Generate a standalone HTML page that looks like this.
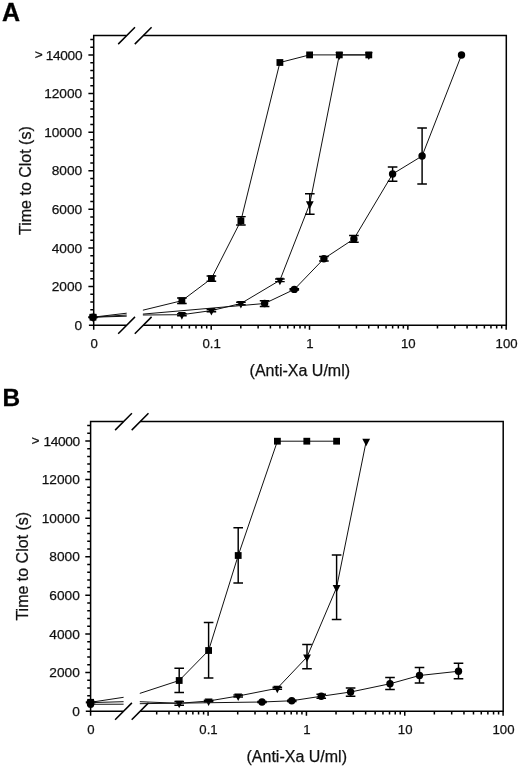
<!DOCTYPE html>
<html><head><meta charset="utf-8"><title>Figure</title>
<style>
html,body{margin:0;padding:0;background:#fff;}
svg{display:block;}
text{font-family:"Liberation Sans",sans-serif;fill:#111;}
.tk{font-size:13.2px;stroke:#111;stroke-width:0.25px;}
.ty{font-size:13.7px;}
.tt{font-size:16px;stroke:#111;stroke-width:0.25px;}
.pl{font-weight:bold;fill:#000;stroke:#000;stroke-width:0.3px;}
</style></head><body>
<svg width="520" height="767" viewBox="0 0 520 767">
<rect width="520" height="767" fill="#fff"/>
<path d="M93.70,329.70 V35.60 H126.40 M143.20,35.60 H506.30 V325.20 H143.20 M126.40,325.20 H88.90" fill="none" stroke="#000" stroke-width="1.5" stroke-linecap="butt" stroke-linejoin="miter"/>
<line x1="118.20" y1="44.10" x2="135.00" y2="27.30" stroke="#000" stroke-width="1.5"/>
<line x1="134.80" y1="44.10" x2="151.60" y2="27.30" stroke="#000" stroke-width="1.5"/>
<line x1="118.20" y1="333.70" x2="135.00" y2="316.90" stroke="#000" stroke-width="1.5"/>
<line x1="134.80" y1="333.70" x2="151.60" y2="316.90" stroke="#000" stroke-width="1.5"/>
<path d="M93.70,317.38 h-3.4 M93.70,309.66 h-3.4 M93.70,301.94 h-3.4 M93.70,294.23 h-3.4 M93.70,286.51 h-5.3 M93.70,278.79 h-3.4 M93.70,271.07 h-3.4 M93.70,263.35 h-3.4 M93.70,255.63 h-3.4 M93.70,247.92 h-5.3 M93.70,240.20 h-3.4 M93.70,232.48 h-3.4 M93.70,224.76 h-3.4 M93.70,217.04 h-3.4 M93.70,209.32 h-5.3 M93.70,201.61 h-3.4 M93.70,193.89 h-3.4 M93.70,186.17 h-3.4 M93.70,178.45 h-3.4 M93.70,170.73 h-5.3 M93.70,163.01 h-3.4 M93.70,155.30 h-3.4 M93.70,147.58 h-3.4 M93.70,139.86 h-3.4 M93.70,132.14 h-5.3 M93.70,124.42 h-3.4 M93.70,116.70 h-3.4 M93.70,108.98 h-3.4 M93.70,101.27 h-3.4 M93.70,93.55 h-5.3 M93.70,85.83 h-3.4 M93.70,78.11 h-3.4 M93.70,70.39 h-3.4 M93.70,62.67 h-3.4 M93.70,54.96 h-5.3 M93.70,47.24 h-3.4 M93.70,39.52 h-3.4 M159.79,325.20 v3.2 M172.07,325.20 v3.2 M181.60,325.20 v3.2 M189.39,325.20 v3.2 M195.97,325.20 v3.2 M201.67,325.20 v3.2 M206.70,325.20 v3.2 M211.20,325.20 v4.5 M240.80,325.20 v3.2 M258.12,325.20 v3.2 M270.40,325.20 v3.2 M279.93,325.20 v3.2 M287.72,325.20 v3.2 M294.30,325.20 v3.2 M300.00,325.20 v3.2 M305.03,325.20 v3.2 M309.53,325.20 v4.5 M339.13,325.20 v3.2 M356.45,325.20 v3.2 M368.73,325.20 v3.2 M378.26,325.20 v3.2 M386.05,325.20 v3.2 M392.63,325.20 v3.2 M398.33,325.20 v3.2 M403.36,325.20 v3.2 M407.86,325.20 v4.5 M437.46,325.20 v3.2 M454.78,325.20 v3.2 M467.06,325.20 v3.2 M476.59,325.20 v3.2 M484.38,325.20 v3.2 M490.96,325.20 v3.2 M496.66,325.20 v3.2 M501.69,325.20 v3.2 M506.19,325.20 v4.5 " fill="none" stroke="#000" stroke-width="1.5"/>
<text x="82.20" y="329.75" text-anchor="end" class="tk ty">0</text>
<text x="82.20" y="291.16" text-anchor="end" class="tk ty">2000</text>
<text x="82.20" y="252.57" text-anchor="end" class="tk ty">4000</text>
<text x="82.20" y="213.97" text-anchor="end" class="tk ty">6000</text>
<text x="82.20" y="175.38" text-anchor="end" class="tk ty">8000</text>
<text x="82.20" y="136.79" text-anchor="end" class="tk ty">10000</text>
<text x="82.20" y="98.20" text-anchor="end" class="tk ty">12000</text>
<text x="82.20" y="59.61" text-anchor="end" class="tk ty" letter-spacing="-0.33">14000</text>
<text x="42.70" y="59.46" text-anchor="end" class="tk ty">&gt;</text>
<text x="94.10" y="347.80" text-anchor="middle" class="tk">0</text>
<text x="211.60" y="347.80" text-anchor="middle" class="tk">0.1</text>
<text x="309.93" y="347.80" text-anchor="middle" class="tk">1</text>
<text x="408.26" y="347.80" text-anchor="middle" class="tk">10</text>
<text x="506.59" y="347.80" text-anchor="middle" class="tk">100</text>
<text x="299.83" y="375.70" text-anchor="middle" class="tt">(Anti-Xa U/ml)</text>
<text transform="translate(31.10,180.60) rotate(-90)" text-anchor="middle" class="tt">Time to Clot (s)</text>
<text x="2.0" y="20.7" class="pl" font-size="25">A</text>
<path d="M93.00,317.20 L126.70,313.20 M142.90,310.20 L181.90,300.70 M181.90,300.70 L211.40,278.60 M211.40,278.60 L240.90,220.75 M240.90,220.75 L279.90,62.50 M279.90,62.50 L309.60,54.90 M309.60,54.90 L339.30,54.90 M339.30,54.90 L368.80,54.90 " fill="none" stroke="#111" stroke-width="1"/>
<path d="M93.00,316.90 V317.50 M88.20,316.90 h9.6 M88.20,317.50 h9.6 M181.90,298.00 V303.50 M177.10,298.00 h9.6 M177.10,303.50 h9.6 M211.40,276.00 V281.20 M206.60,276.00 h9.6 M206.60,281.20 h9.6 M240.90,216.60 V224.90 M236.10,216.60 h9.6 M236.10,224.90 h9.6 " fill="none" stroke="#000" stroke-width="1.45"/>
<rect x="89.60" y="313.80" width="6.8" height="6.8" fill="#000"/>
<rect x="178.50" y="297.30" width="6.8" height="6.8" fill="#000"/>
<rect x="208.00" y="275.20" width="6.8" height="6.8" fill="#000"/>
<rect x="237.50" y="217.35" width="6.8" height="6.8" fill="#000"/>
<rect x="276.50" y="59.10" width="6.8" height="6.8" fill="#000"/>
<rect x="306.20" y="51.50" width="6.8" height="6.8" fill="#000"/>
<rect x="335.90" y="51.50" width="6.8" height="6.8" fill="#000"/>
<rect x="365.40" y="51.50" width="6.8" height="6.8" fill="#000"/>
<path d="M93.00,317.20 L126.70,316.20 M142.90,315.00 L181.90,314.70 M181.90,314.70 L211.40,310.60 M211.40,310.60 L240.90,303.50 M240.90,303.50 L279.90,280.30 M279.90,280.30 L309.80,203.80 M309.80,203.80 L339.30,54.90 M339.30,54.90 L368.80,54.90 " fill="none" stroke="#111" stroke-width="1"/>
<path d="M181.90,313.60 V315.80 M177.10,313.60 h9.6 M177.10,315.80 h9.6 M211.40,309.50 V311.70 M206.60,309.50 h9.6 M206.60,311.70 h9.6 M240.90,302.20 V304.80 M236.10,302.20 h9.6 M236.10,304.80 h9.6 M279.90,279.00 V281.60 M275.10,279.00 h9.6 M275.10,281.60 h9.6 M309.80,193.75 V214.25 M305.00,193.75 h9.6 M305.00,214.25 h9.6 " fill="none" stroke="#000" stroke-width="1.45"/>
<path d="M89.10,314.60 h7.8 L93.00,322.20 Z" fill="#000"/>
<path d="M178.00,312.10 h7.8 L181.90,319.70 Z" fill="#000"/>
<path d="M207.50,308.00 h7.8 L211.40,315.60 Z" fill="#000"/>
<path d="M237.00,300.90 h7.8 L240.90,308.50 Z" fill="#000"/>
<path d="M276.00,277.70 h7.8 L279.90,285.30 Z" fill="#000"/>
<path d="M305.90,201.20 h7.8 L309.80,208.80 Z" fill="#000"/>
<path d="M335.40,52.30 h7.8 L339.30,59.90 Z" fill="#000"/>
<path d="M364.90,52.30 h7.8 L368.80,59.90 Z" fill="#000"/>
<path d="M93.00,317.20 L126.70,315.00 M142.90,314.10 L264.60,303.50 M264.60,303.50 L294.30,289.40 M294.30,289.40 L323.90,258.70 M323.90,258.70 L353.90,238.90 M353.90,238.90 L392.60,174.00 M392.60,174.00 L422.10,156.00 M422.10,156.00 L461.50,55.00 " fill="none" stroke="#111" stroke-width="1"/>
<path d="M264.60,300.75 V306.40 M259.80,300.75 h9.6 M259.80,306.40 h9.6 M294.30,288.70 V290.10 M289.50,288.70 h9.6 M289.50,290.10 h9.6 M323.90,256.50 V260.90 M319.10,256.50 h9.6 M319.10,260.90 h9.6 M353.90,235.40 V242.30 M349.10,235.40 h9.6 M349.10,242.30 h9.6 M392.60,167.00 V181.25 M387.80,167.00 h9.6 M387.80,181.25 h9.6 M422.10,128.00 V184.00 M417.30,128.00 h9.6 M417.30,184.00 h9.6 " fill="none" stroke="#000" stroke-width="1.45"/>
<circle cx="93.00" cy="317.20" r="3.7" fill="#000"/>
<circle cx="264.60" cy="303.50" r="3.7" fill="#000"/>
<circle cx="294.30" cy="289.40" r="3.7" fill="#000"/>
<circle cx="323.90" cy="258.70" r="3.7" fill="#000"/>
<circle cx="353.90" cy="238.90" r="3.7" fill="#000"/>
<circle cx="392.60" cy="174.00" r="3.7" fill="#000"/>
<circle cx="422.10" cy="156.00" r="3.7" fill="#000"/>
<circle cx="461.50" cy="55.00" r="3.7" fill="#000"/>
<path d="M90.60,715.70 V421.60 H123.30 M140.10,421.60 H503.20 V711.20 H140.10 M123.30,711.20 H85.80" fill="none" stroke="#000" stroke-width="1.5" stroke-linecap="butt" stroke-linejoin="miter"/>
<line x1="115.10" y1="430.10" x2="131.90" y2="413.30" stroke="#000" stroke-width="1.5"/>
<line x1="131.70" y1="430.10" x2="148.50" y2="413.30" stroke="#000" stroke-width="1.5"/>
<line x1="115.10" y1="719.70" x2="131.90" y2="702.90" stroke="#000" stroke-width="1.5"/>
<line x1="131.70" y1="719.70" x2="148.50" y2="702.90" stroke="#000" stroke-width="1.5"/>
<path d="M90.60,703.38 h-3.4 M90.60,695.66 h-3.4 M90.60,687.94 h-3.4 M90.60,680.23 h-3.4 M90.60,672.51 h-5.3 M90.60,664.79 h-3.4 M90.60,657.07 h-3.4 M90.60,649.35 h-3.4 M90.60,641.63 h-3.4 M90.60,633.92 h-5.3 M90.60,626.20 h-3.4 M90.60,618.48 h-3.4 M90.60,610.76 h-3.4 M90.60,603.04 h-3.4 M90.60,595.32 h-5.3 M90.60,587.61 h-3.4 M90.60,579.89 h-3.4 M90.60,572.17 h-3.4 M90.60,564.45 h-3.4 M90.60,556.73 h-5.3 M90.60,549.01 h-3.4 M90.60,541.30 h-3.4 M90.60,533.58 h-3.4 M90.60,525.86 h-3.4 M90.60,518.14 h-5.3 M90.60,510.42 h-3.4 M90.60,502.70 h-3.4 M90.60,494.98 h-3.4 M90.60,487.27 h-3.4 M90.60,479.55 h-5.3 M90.60,471.83 h-3.4 M90.60,464.11 h-3.4 M90.60,456.39 h-3.4 M90.60,448.67 h-3.4 M90.60,440.96 h-5.3 M90.60,433.24 h-3.4 M90.60,425.52 h-3.4 M156.69,711.20 v3.2 M168.97,711.20 v3.2 M178.50,711.20 v3.2 M186.29,711.20 v3.2 M192.87,711.20 v3.2 M198.57,711.20 v3.2 M203.60,711.20 v3.2 M208.10,711.20 v4.5 M237.70,711.20 v3.2 M255.02,711.20 v3.2 M267.30,711.20 v3.2 M276.83,711.20 v3.2 M284.62,711.20 v3.2 M291.20,711.20 v3.2 M296.90,711.20 v3.2 M301.93,711.20 v3.2 M306.43,711.20 v4.5 M336.03,711.20 v3.2 M353.35,711.20 v3.2 M365.63,711.20 v3.2 M375.16,711.20 v3.2 M382.95,711.20 v3.2 M389.53,711.20 v3.2 M395.23,711.20 v3.2 M400.26,711.20 v3.2 M404.76,711.20 v4.5 M434.36,711.20 v3.2 M451.68,711.20 v3.2 M463.96,711.20 v3.2 M473.49,711.20 v3.2 M481.28,711.20 v3.2 M487.86,711.20 v3.2 M493.56,711.20 v3.2 M498.59,711.20 v3.2 M503.09,711.20 v4.5 " fill="none" stroke="#000" stroke-width="1.5"/>
<text x="79.80" y="715.75" text-anchor="end" class="tk ty">0</text>
<text x="79.80" y="677.16" text-anchor="end" class="tk ty">2000</text>
<text x="79.80" y="638.57" text-anchor="end" class="tk ty">4000</text>
<text x="79.80" y="599.97" text-anchor="end" class="tk ty">6000</text>
<text x="79.80" y="561.38" text-anchor="end" class="tk ty">8000</text>
<text x="79.80" y="522.79" text-anchor="end" class="tk ty">10000</text>
<text x="79.80" y="484.20" text-anchor="end" class="tk ty">12000</text>
<text x="79.80" y="445.61" text-anchor="end" class="tk ty" letter-spacing="-0.33">14000</text>
<text x="39.60" y="445.46" text-anchor="end" class="tk ty">&gt;</text>
<text x="91.00" y="733.80" text-anchor="middle" class="tk">0</text>
<text x="208.50" y="733.80" text-anchor="middle" class="tk">0.1</text>
<text x="306.83" y="733.80" text-anchor="middle" class="tk">1</text>
<text x="405.16" y="733.80" text-anchor="middle" class="tk">10</text>
<text x="503.49" y="733.80" text-anchor="middle" class="tk">100</text>
<text x="296.73" y="761.70" text-anchor="middle" class="tt">(Anti-Xa U/ml)</text>
<text transform="translate(28.00,566.20) rotate(-90)" text-anchor="middle" class="tt">Time to Clot (s)</text>
<text x="2.5" y="406.3" class="pl" font-size="24.4">B</text>
<path d="M90.60,702.30 L123.60,697.30 M139.80,693.40 L179.20,680.50 M179.20,680.50 L208.60,650.50 M208.60,650.50 L238.20,555.50 M238.20,555.50 L277.40,441.20 M277.40,441.20 L306.80,441.20 M306.80,441.20 L336.60,441.20 " fill="none" stroke="#111" stroke-width="1"/>
<path d="M90.60,701.90 V702.70 M85.80,701.90 h9.6 M85.80,702.70 h9.6 M179.20,668.25 V692.50 M174.40,668.25 h9.6 M174.40,692.50 h9.6 M208.60,622.50 V678.00 M203.80,622.50 h9.6 M203.80,678.00 h9.6 M238.20,527.75 V583.00 M233.40,527.75 h9.6 M233.40,583.00 h9.6 " fill="none" stroke="#000" stroke-width="1.45"/>
<rect x="87.20" y="698.90" width="6.8" height="6.8" fill="#000"/>
<rect x="175.80" y="677.10" width="6.8" height="6.8" fill="#000"/>
<rect x="205.20" y="647.10" width="6.8" height="6.8" fill="#000"/>
<rect x="234.80" y="552.10" width="6.8" height="6.8" fill="#000"/>
<rect x="274.00" y="437.80" width="6.8" height="6.8" fill="#000"/>
<rect x="303.40" y="437.80" width="6.8" height="6.8" fill="#000"/>
<rect x="333.20" y="437.80" width="6.8" height="6.8" fill="#000"/>
<path d="M90.60,702.60 L123.60,701.70 M139.80,701.70 L179.20,703.30 M179.20,703.30 L208.60,701.00 M208.60,701.00 L238.20,696.00 M238.20,696.00 L277.30,688.30 M277.30,688.30 L307.00,657.00 M307.00,657.00 L336.60,587.50 M336.60,587.50 L366.20,441.30 " fill="none" stroke="#111" stroke-width="1"/>
<path d="M179.20,701.40 V705.20 M174.40,701.40 h9.6 M174.40,705.20 h9.6 M208.60,700.30 V701.70 M203.80,700.30 h9.6 M203.80,701.70 h9.6 M238.20,695.00 V697.00 M233.40,695.00 h9.6 M233.40,697.00 h9.6 M277.30,687.30 V689.30 M272.50,687.30 h9.6 M272.50,689.30 h9.6 M307.00,644.50 V668.75 M302.20,644.50 h9.6 M302.20,668.75 h9.6 M336.60,555.00 V619.50 M331.80,555.00 h9.6 M331.80,619.50 h9.6 " fill="none" stroke="#000" stroke-width="1.45"/>
<path d="M86.70,700.00 h7.8 L90.60,707.60 Z" fill="#000"/>
<path d="M175.30,700.70 h7.8 L179.20,708.30 Z" fill="#000"/>
<path d="M204.70,698.40 h7.8 L208.60,706.00 Z" fill="#000"/>
<path d="M234.30,693.40 h7.8 L238.20,701.00 Z" fill="#000"/>
<path d="M273.40,685.70 h7.8 L277.30,693.30 Z" fill="#000"/>
<path d="M303.10,654.40 h7.8 L307.00,662.00 Z" fill="#000"/>
<path d="M332.70,584.90 h7.8 L336.60,592.50 Z" fill="#000"/>
<path d="M362.30,438.70 h7.8 L366.20,446.30 Z" fill="#000"/>
<path d="M90.60,704.30 L123.60,704.20 M139.80,703.70 L262.00,702.00 M262.00,702.00 L291.75,700.75 M291.75,700.75 L321.25,696.25 M321.25,696.25 L350.60,692.00 M350.60,692.00 L390.00,683.75 M390.00,683.75 L419.50,675.50 M419.50,675.50 L458.50,671.25 " fill="none" stroke="#111" stroke-width="1"/>
<path d="M262.00,701.40 V702.60 M257.20,701.40 h9.6 M257.20,702.60 h9.6 M291.75,700.10 V701.40 M286.95,700.10 h9.6 M286.95,701.40 h9.6 M321.25,694.30 V698.20 M316.45,694.30 h9.6 M316.45,698.20 h9.6 M350.60,688.00 V696.25 M345.80,688.00 h9.6 M345.80,696.25 h9.6 M390.00,677.50 V689.50 M385.20,677.50 h9.6 M385.20,689.50 h9.6 M419.50,667.50 V683.00 M414.70,667.50 h9.6 M414.70,683.00 h9.6 M458.50,663.25 V678.75 M453.70,663.25 h9.6 M453.70,678.75 h9.6 " fill="none" stroke="#000" stroke-width="1.45"/>
<circle cx="90.60" cy="704.30" r="3.7" fill="#000"/>
<circle cx="262.00" cy="702.00" r="3.7" fill="#000"/>
<circle cx="291.75" cy="700.75" r="3.7" fill="#000"/>
<circle cx="321.25" cy="696.25" r="3.7" fill="#000"/>
<circle cx="350.60" cy="692.00" r="3.7" fill="#000"/>
<circle cx="390.00" cy="683.75" r="3.7" fill="#000"/>
<circle cx="419.50" cy="675.50" r="3.7" fill="#000"/>
<circle cx="458.50" cy="671.25" r="3.7" fill="#000"/>
</svg>
</body></html>
